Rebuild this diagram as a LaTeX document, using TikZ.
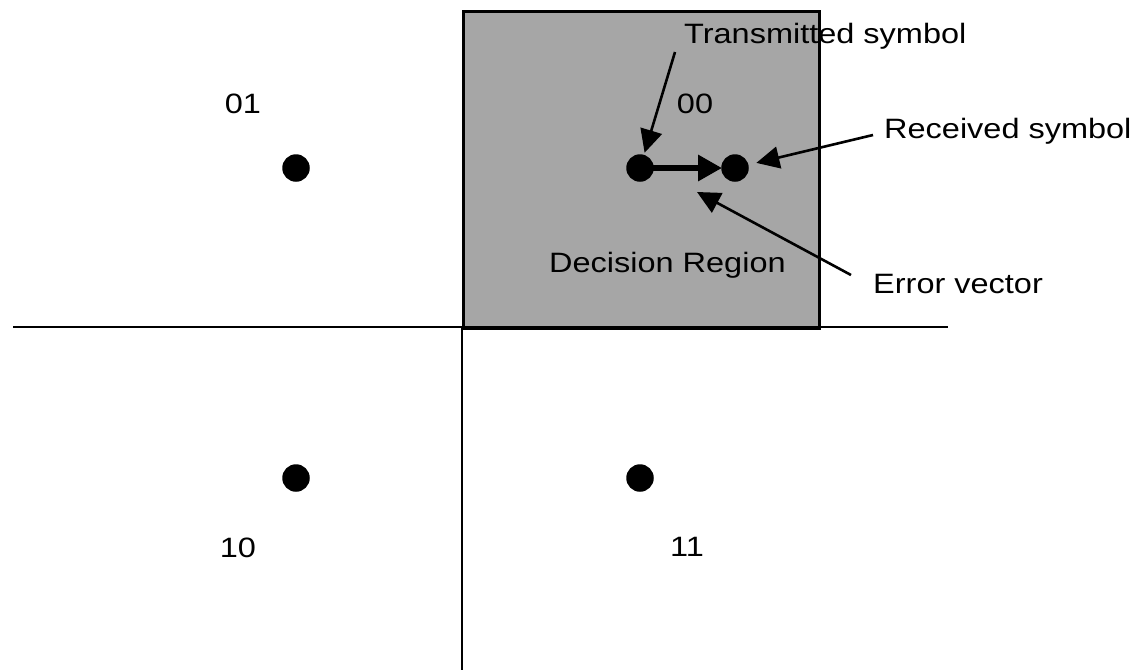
\documentclass[tikz,border=0pt]{standalone}
\usepackage{fontspec}
\setmainfont{Liberation Sans}
\usetikzlibrary{arrows.meta}
\tikzset{
  dot/.style={circle, fill=black, inner sep=0pt, minimum size=27.5pt},
  lbl/.style={inner sep=0pt, font=\fontsize{28}{32}\selectfont},
  pointer/.style={line width=2.6pt, -{Triangle[length=23pt,width=22pt]}},
  errarrow/.style={line width=6.5pt, -{Triangle[length=24pt,width=25pt]}},
  region/.style={fill=black!35, draw=black, line width=3pt},
  axis/.style={line width=2.2pt}
}
\newcommand{\wtxt}[1]{\scalebox{1.16}[1]{#1}}
\begin{document}
\begin{tikzpicture}[x=1pt,y=-1pt]
\useasboundingbox (0,0) rectangle (1134,670);
% decision region
\node[region, minimum width=356pt, minimum height=317pt, anchor=north west, inner sep=0pt] (box) at (462,10) {};
\coordinate (hl) at (13,327);
\coordinate (hr) at (948,327);
\coordinate (vt) at (462,327);
\coordinate (vb) at (462,670);
\draw[axis] (hl) -- (hr);
\draw[line width=2.8pt] (vt) -- (vb);
% constellation points
\node[dot] (p01) at (296,168) {};
\node[dot] (p10) at (296,478) {};
\node[dot] (p11) at (640,478) {};
\node[dot] (tx) at (640,168) {};
\node[dot] (rx) at (735,168) {};
% labels
\node[lbl] (l01) at (243,104) {\wtxt{01}};
\node[lbl] (l00) at (695,104) {\wtxt{00}};
\node[lbl] (l10) at (238,548) {\wtxt{10}};
\node[lbl] (l11) at (687,547) {\wtxt{11}};
\node[lbl, anchor=base west] (ltx) at (684,43) {\wtxt{Transmitted symbol}};
\node[lbl, anchor=base west] (lrx) at (884,138) {\wtxt{Received symbol}};
\node[lbl, anchor=base west] (ldr) at (549,272) {\wtxt{Decision Region}};
\node[lbl, anchor=base west] (lev) at (873,293) {\wtxt{Error vector}};
% arrows
\coordinate (txs) at (675,52);
\coordinate (rxs) at (873,135);
\coordinate (evs) at (851,275);
\coordinate (evt) at (697,192);
\draw[errarrow, shorten <=-4pt, shorten >=-1pt] (tx) -- (rx);
\draw[pointer, shorten >=2pt] (txs) -- (tx);
\draw[pointer, shorten >=8pt] (rxs) -- (rx);
\draw[pointer] (evs) -- (evt);
\end{tikzpicture}
\end{document}
